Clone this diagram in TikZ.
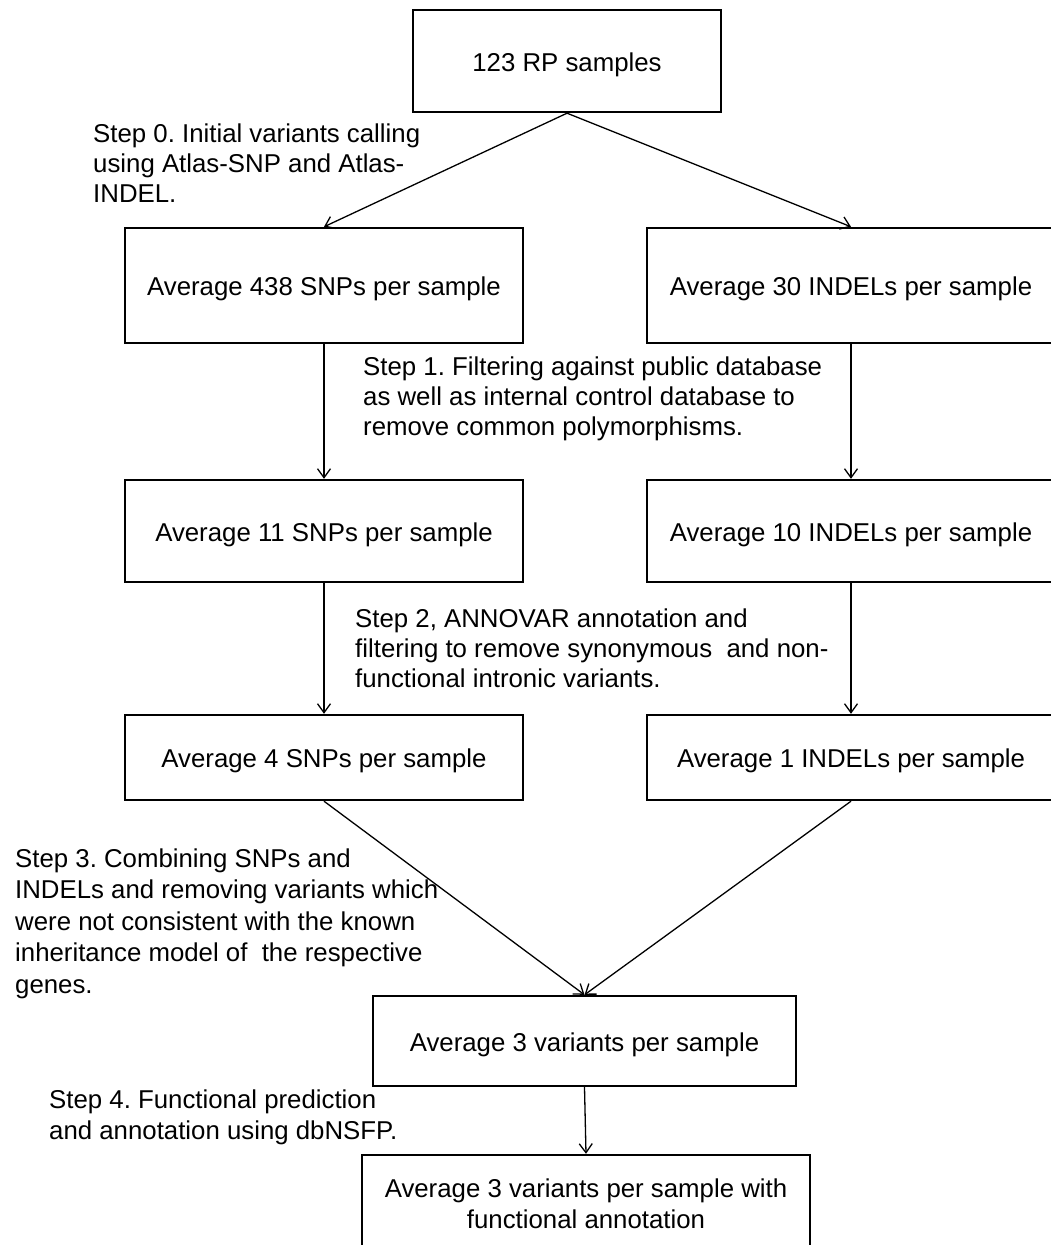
\documentclass[tikz,border=0pt]{standalone}
\usepackage{fontspec}
\setmainfont{Liberation Sans}
\usetikzlibrary{arrows.meta}
\begin{document}
\frenchspacing
\begin{tikzpicture}[x=1pt,y=-1pt,
  every node/.style={font=\fontsize{25.8}{31.5}\selectfont},
  box/.style={draw, line width=2.4pt, inner sep=0pt, align=center},
  sbox/.style={box, text height=20pt, text depth=0pt},
  lbl/.style={anchor=north west, inner sep=0pt, align=left},
  conn/.style={line width=1.3pt, -{Straight Barb[length=9pt,width=13pt,line width=1.3pt]}}]
\useasboundingbox (0,0) rectangle (1051,1245);
\clip (0,0) rectangle (1051,1245);
\node[sbox, minimum width=308pt, minimum height=102pt] (top) at (567,61) {123 RP samples};
\node[sbox, minimum width=398pt, minimum height=115pt] (l1) at (324,285.5) {Average 438 SNPs per sample};
\node[sbox, minimum width=408pt, minimum height=115pt] (r1) at (851,285.5) {Average 30 INDELs per sample};
\node[sbox, minimum width=398pt, minimum height=102pt] (l2) at (324,531) {Average 11 SNPs per sample};
\node[sbox, minimum width=408pt, minimum height=102pt] (r2) at (851,531) {Average 10 INDELs per sample};
\node[sbox, minimum width=398pt, minimum height=85pt] (l3) at (324,757.5) {Average 4 SNPs per sample};
\node[sbox, minimum width=408pt, minimum height=85pt] (r3) at (851,757.5) {Average 1 INDELs per sample};
\node[sbox, minimum width=423pt, minimum height=90pt] (m4) at (584.5,1041) {Average 3 variants per sample};
\node[box, minimum width=448pt, minimum height=98pt] (m5) at (586,1204) {Average 3 variants per sample with\\functional annotation};

\draw[conn] (top.south) -- (l1.north);
\draw[conn] (top.south) -- (r1.north);
\draw[conn] (l1.south) -- (l2.north);
\draw[conn] (r1.south) -- (r2.north);
\draw[conn] (l2.south) -- (l3.north);
\draw[conn] (r2.south) -- (r3.north);
\draw[conn] (l3.south) -- (m4.north);
\draw[conn] (r3.south) -- (m4.north);
\draw[conn] (m4.south) -- (m5.north);

\node[lbl, font=\fontsize{25.8}{30}\selectfont] (s0) at (93,123.5) {Step 0. Initial variants calling\\using Atlas-SNP and Atlas-\\INDEL.};
\node[lbl, font=\fontsize{25.8}{30}\selectfont] (s1) at (363,356.5) {Step 1. Filtering against public database\\as well as internal control database to\\remove common polymorphisms.};
\node[lbl, font=\fontsize{25.8}{30}\selectfont] (s2) at (355,608.5) {Step 2, ANNOVAR annotation and\\filtering to remove synonymous\ \ and non-\\functional intronic variants.};
\node[lbl, font=\fontsize{25.8}{31.5}\selectfont] (s3) at (15,848.5) {Step 3. Combining SNPs and\\INDELs and removing variants which\\were not consistent with the known\\inheritance model of\ \ the respective\\genes.};
\node[lbl, font=\fontsize{25.8}{31}\selectfont] (s4) at (49,1089.5) {Step 4. Functional prediction\\and annotation using dbNSFP.};
\end{tikzpicture}
\end{document}
